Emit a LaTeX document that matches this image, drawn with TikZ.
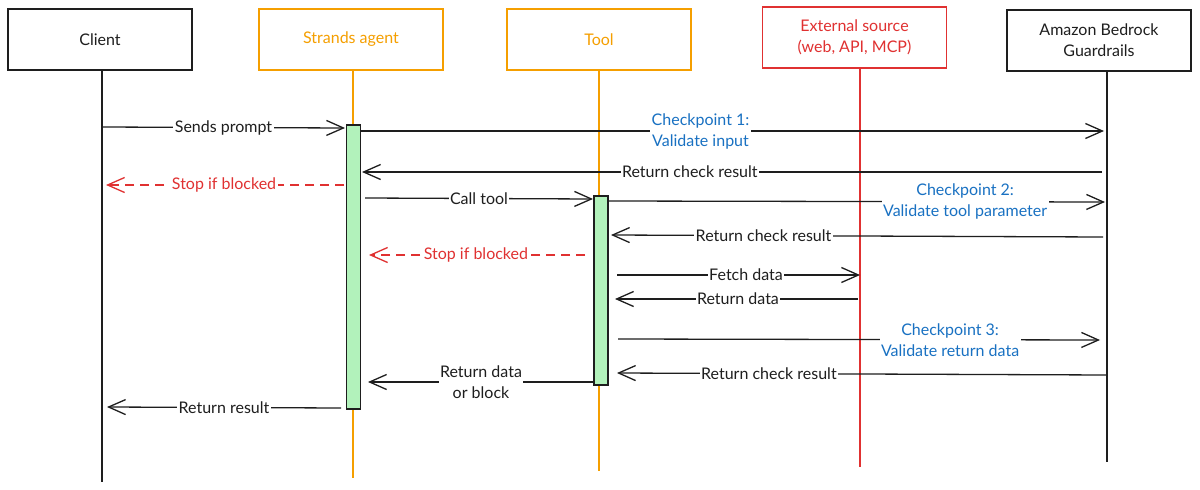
\documentclass[tikz,border=0pt]{standalone}
\usepackage{fontspec}
\setmainfont{Lato}
\usetikzlibrary{arrows.meta}
\definecolor{ink}{HTML}{1E1E1E}
\definecolor{orng}{HTML}{F59F00}
\definecolor{rd}{HTML}{E03131}
\definecolor{bl}{HTML}{1971C2}
\definecolor{grn}{HTML}{B2F2BB}
\tikzset{
  head/.style={draw, line width=1.4pt, minimum width=184pt, minimum height=61pt, align=center, font=\fontsize{16}{21}\selectfont, inner sep=0pt},
  life/.style={line width=1.2pt},
  act/.style={draw=ink, fill=grn, line width=1.3pt, minimum width=14pt, inner sep=0pt},
  tip/.style={-{Straight Barb[length=17pt,width=15pt,line width=1.3pt]}},
  msg/.style={draw=ink, line width=1.3pt, tip},
  stopmsg/.style={draw=rd, line width=1.5pt, dashed, dash pattern=on 9pt off 6pt, tip},
  lbl/.style={fill=white, inner sep=1.5pt, text=ink, align=center, font=\fontsize{16}{21}\selectfont},
  blbl/.style={lbl, text=bl},
  rlbl/.style={lbl, text=rd},
}
\begin{document}
\begin{tikzpicture}[x=1pt,y=-1pt]
\useasboundingbox[fill=white] (0,0) rectangle (1200,490);
% headers
\node[head, draw=ink, text=ink] (client) at (100,39.5) {Client};
\node[head, draw=orng, text=orng] (agent) at (351,39.5) {Strands agent};
\node[head, draw=orng, text=orng] (tool) at (599,39.5) {Tool};
\node[head, draw=rd, text=rd] (ext) at (854.5,37.5) {External source\\(web, API, MCP)};
\node[head, draw=ink, text=ink] (gr) at (1099,40.5) {Amazon Bedrock\\Guardrails};
% lifeline ends
\coordinate (clientEnd) at (102,482);
\coordinate (agentEnd) at (353,478);
\coordinate (toolEnd) at (599,471);
\coordinate (extEnd) at (860,467);
\coordinate (grEnd) at (1107,462);
\draw[life, ink] (clientEnd |- client.south) -- (clientEnd);
\draw[life, orng] (agentEnd |- agent.south) -- (agentEnd);
\draw[life, orng] (toolEnd |- tool.south) -- (toolEnd);
\draw[life, rd] (extEnd |- ext.south) -- (extEnd);
\draw[life, ink] (grEnd |- gr.south) -- (grEnd);
% activation bars
\node[act, minimum height=284pt] (actA) at (353.5,267) {};
\node[act, minimum height=189pt] (actT) at (601,290.5) {};
% message end points
\coordinate (m1a) at (102,127);   \coordinate (m1b) at (345,128);
\coordinate (m2a) at (361,131);   \coordinate (m2b) at (1104,131);
\coordinate (m3a) at (1102,172);  \coordinate (m3b) at (362,172);
\coordinate (m4a) at (344,185);   \coordinate (m4b) at (106,185);
\coordinate (m5a) at (365,198);   \coordinate (m5b) at (593,199);
\coordinate (m6a) at (609,201);   \coordinate (m6b) at (1105,202);
\coordinate (m7a) at (1103,237);  \coordinate (m7b) at (611,235);
\coordinate (m8a) at (585,255);   \coordinate (m8b) at (369,255);
\coordinate (m9a) at (617,275);   \coordinate (m9b) at (860,275);
\coordinate (m10a) at (858,299);  \coordinate (m10b) at (615,299);
\coordinate (m11a) at (618,339);  \coordinate (m11b) at (1100,340);
\coordinate (m12a) at (1107,375); \coordinate (m12b) at (617,373);
\coordinate (m13a) at (594,382);  \coordinate (m13b) at (368,382);
\coordinate (m14a) at (341,408);  \coordinate (m14b) at (107,407);
% messages
\draw[msg] (m1a) -- node[lbl, pos=0.5] (l1) {Sends prompt} (m1b);
\draw[msg] (m2a) -- node[blbl, pos=0.457] (l2) {Checkpoint 1:\\Validate input} (m2b);
\draw[msg] (m3a) -- node[lbl, pos=0.557] (l3) {Return check result} (m3b);
\draw[stopmsg] (m4a) -- node[rlbl, pos=0.504] (l4) {Stop if blocked} (m4b);
\draw[msg] (m5a) -- node[lbl, pos=0.5] (l5) {Call tool} (m5b);
\draw[msg] (m6a) -- node[blbl, pos=0.718] (l6) {Checkpoint 2:\\Validate tool parameter} (m6b);
\draw[msg] (m7a) -- node[lbl, pos=0.69] (l7) {Return check result} (m7b);
\draw[stopmsg] (m8a) -- node[rlbl, pos=0.505] (l8) {Stop if blocked} (m8b);
\draw[msg] (m9a) -- node[lbl, pos=0.531] (l9) {Fetch data} (m9b);
\draw[msg] (m10a) -- node[lbl, pos=0.494] (l10) {Return data} (m10b);
\draw[msg] (m11a) -- node[blbl, pos=0.689] (l11) {Checkpoint 3:\\Validate return data} (m11b);
\draw[msg] (m12a) -- node[lbl, pos=0.690] (l12) {Return check result} (m12b);
\draw[msg] (m13a) -- node[lbl, pos=0.500] (l13) {Return data\\or block} (m13b);
\draw[msg] (m14a) -- node[lbl, pos=0.5] (l14) {Return result} (m14b);
\end{tikzpicture}
\end{document}
